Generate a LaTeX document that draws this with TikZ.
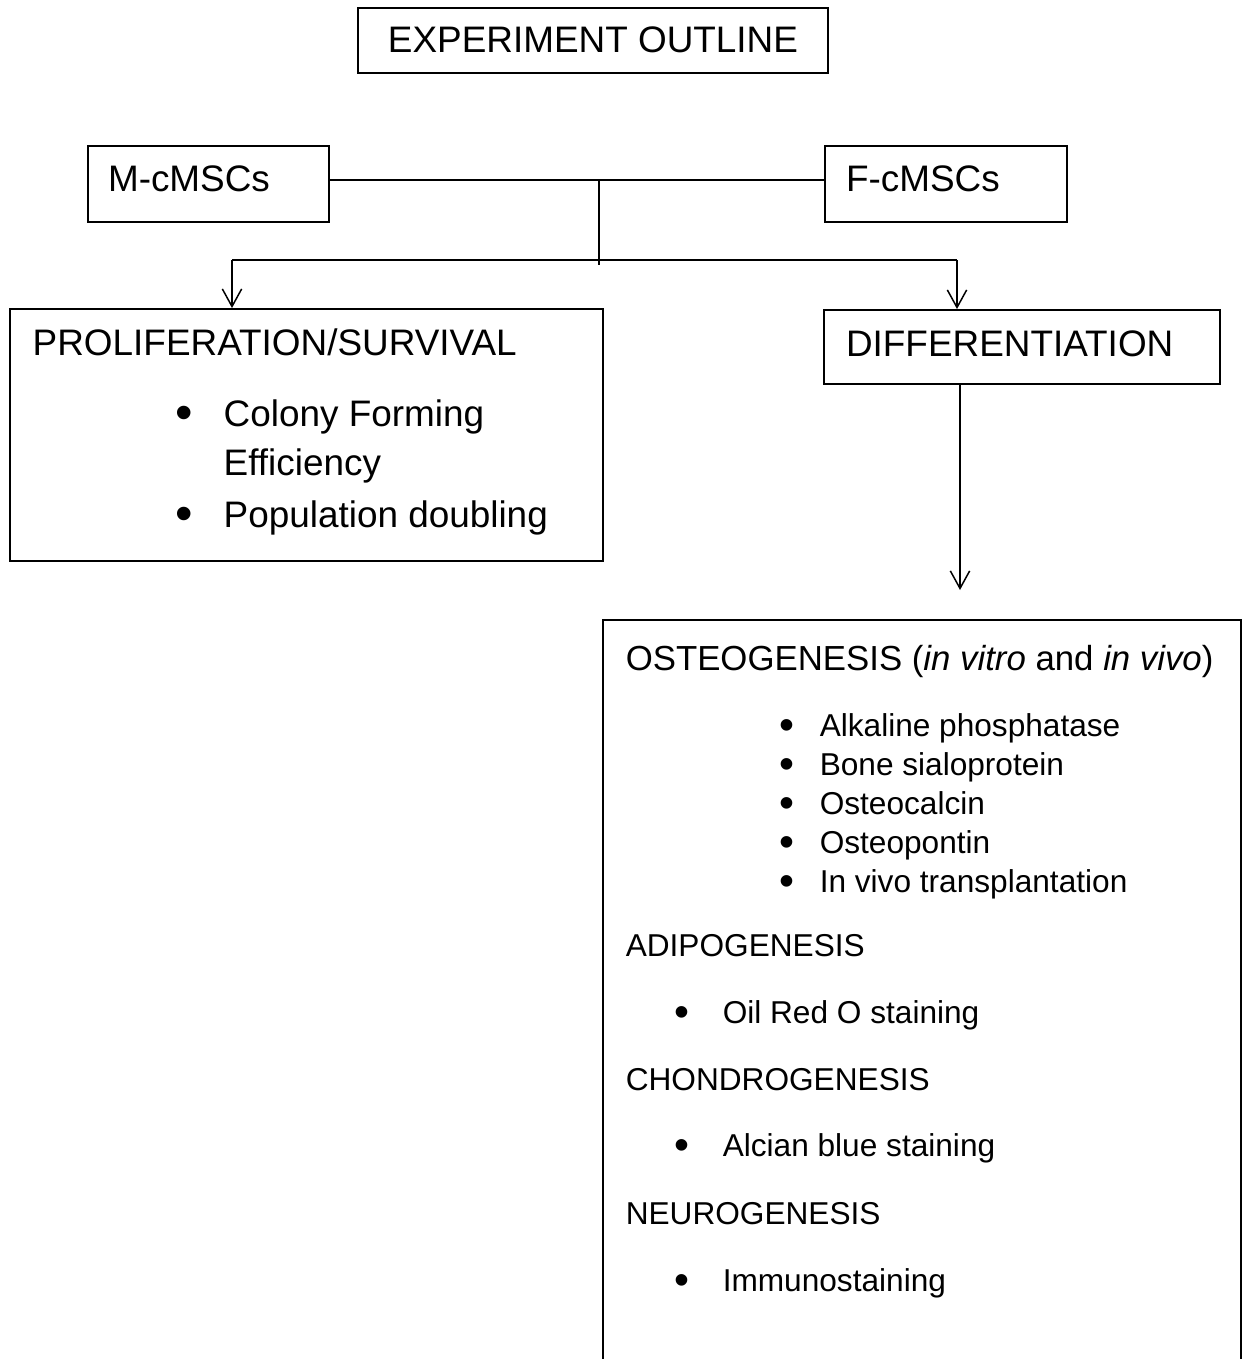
\documentclass[tikz,border=0pt]{standalone}
\usepackage{fontspec}
\setmainfont{Liberation Sans}
\usetikzlibrary{arrows.meta}
\newcommand{\dotitem}[1]{\llap{\raisebox{-0.1em}{\scalebox{1.35}{\textbullet}}\hspace{#1}}}
\begin{document}
\begin{tikzpicture}[x=0.02cm,y=-0.02cm,
  >={Straight Barb[length=10pt,width=11pt]},
  box/.style={rectangle,draw=black,line width=1.1pt,inner ysep=0pt,align=left},
  txt/.style={anchor=base west,inner sep=0pt},
  big/.style={font=\fontsize{21}{25}\selectfont},
  small/.style={font=\fontsize{18}{22}\selectfont},
  every path/.style={line width=0.85pt}]
\useasboundingbox (0,0) rectangle (1248,1359);
\node[box,big,align=center,minimum width=9.4cm,minimum height=1.3cm,text height=0.53cm,text depth=0.03cm] (title) at (593,40.5) {EXPERIMENT OUTLINE};

\node[box,big,minimum width=4.82cm,minimum height=1.52cm,inner xsep=0.4cm,text width=4.02cm,text height=0.53cm,text depth=0.25cm] (mcmsc) at (208.5,184) {M-cMSCs};
\node[box,big,minimum width=4.84cm,minimum height=1.52cm,inner xsep=0.42cm,text width=4.0cm,text height=0.53cm,text depth=0.25cm] (fcmsc) at (946,184) {F-cMSCs};
\draw ([yshift=0.08cm]mcmsc.east)--([yshift=0.08cm]fcmsc.west);
\coordinate (split) at (599,180);
\coordinate (fork) at (599,265);
\draw (split)--(fork);
\coordinate (forkL) at (232,260);
\coordinate (forkR) at (957,260);
\draw (forkL)--(forkR);

\node[box,minimum width=11.86cm,minimum height=5.04cm] (prolif) at (306.5,435) {};
\draw[->] (forkL)--(forkL |- prolif.north);
\node[txt,big] (prolifhead) at (32,355) {PROLIFERATION/SURVIVAL};
\node[txt,big] (colony) at (223,426) {\dotitem{0.62cm}Colony Forming};
\node[txt,big] (effic) at (223,475) {Efficiency};
\node[txt,big] (popdoub) at (223,527) {\dotitem{0.62cm}Population doubling};

\node[box,big,minimum width=7.92cm,minimum height=1.48cm,inner xsep=0.44cm,text width=7.04cm,text height=0.53cm,text depth=0.17cm] (diff) at (1022,347) {DIFFERENTIATION};
\draw[->] (forkR)--(forkR |- diff.north);
\coordinate (tipM) at (960,590);
\draw[->] (tipM |- diff.south)--(tipM);

\node[box,minimum width=12.76cm,minimum height=15.6cm] (methods) at (922,1010) {};
\node[txt,font=\fontsize{19.8}{24}\selectfont] (osteo) at (625,670) {OSTEOGENESIS (\textit{in vitro} and \textit{in vivo})};
\node[txt,small] (alp) at (819,736) {\dotitem{0.5cm}Alkaline phosphatase};
\node[txt,small] (bsp) at (819,775) {\dotitem{0.5cm}Bone sialoprotein};
\node[txt,small] (ocn) at (819,814) {\dotitem{0.5cm}Osteocalcin};
\node[txt,small] (opn) at (819,853) {\dotitem{0.5cm}Osteopontin};
\node[txt,small] (transpl) at (819,892) {\dotitem{0.5cm}In vivo transplantation};
\node[txt,small] (adipo) at (625,956) {ADIPOGENESIS};
\node[txt,small] (oilred) at (722,1023) {\dotitem{0.66cm}Oil Red O staining};
\node[txt,small] (chondro) at (625,1090) {CHONDROGENESIS};
\node[txt,small] (alcian) at (722,1156) {\dotitem{0.66cm}Alcian blue staining};
\node[txt,small] (neuro) at (625,1224) {NEUROGENESIS};
\node[txt,small] (immuno) at (722,1291) {\dotitem{0.66cm}Immunostaining};
\end{tikzpicture}
\end{document}
